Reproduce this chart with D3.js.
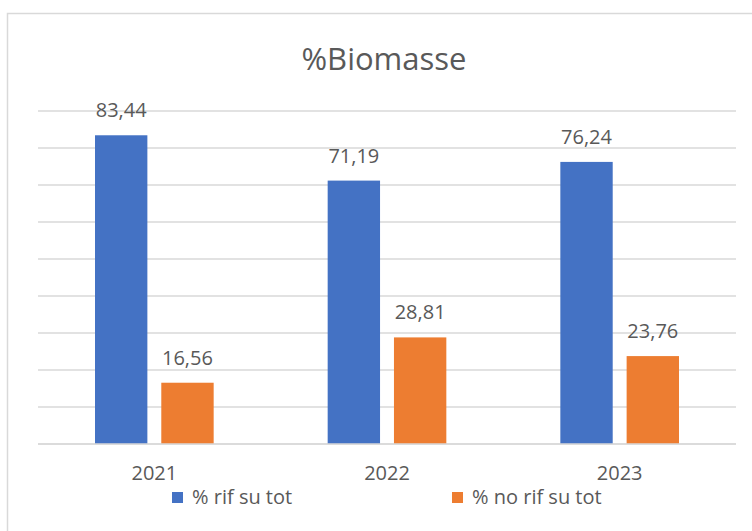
<!DOCTYPE html>
<html><head><meta charset="utf-8">
<script src="https://cdn.jsdelivr.net/npm/d3@7"></script>
<style>body{margin:0;background:#fff}svg{display:block}text{font-family:"Open Sans","Liberation Sans",sans-serif;fill:#595959}</style>
</head><body><svg id="c" width="752" height="531"></svg>
<script>
const title = "%Biomasse";
const categories = ["2021","2022","2023"];
const seriesNames = ["% rif su tot","% no rif su tot"];
const rif = [83.44, 71.19, 76.24];
const noRif = [16.56, 28.81, 23.76];
const yTicks = [0,10,20,30,40,50,60,70,80,90];
const colors = ["#4472C4","#ED7D31"];

(function(){
const svg = d3.select("#c");
svg.append("rect").attr("x",7.5).attr("y",13.5).attr("width",760).attr("height",530)
  .attr("fill","#fff").attr("stroke","#d9d9d9").attr("stroke-width",1.5);

const pl=38, pr=736, pt=111, pb=444;
const y = d3.scaleLinear().domain([0,90]).range([pb, pt]);
const x0 = d3.scaleBand().domain(categories).range([pl,pr]).paddingInner(0.49).paddingOuter(0.245);
const x1 = d3.scaleBand().domain(seriesNames).range([0,x0.bandwidth()]).paddingInner(0.21);

svg.append("g").selectAll("line").data(yTicks).join("line")
  .attr("x1",pl).attr("x2",pr).attr("y1",d=>y(d)).attr("y2",d=>y(d))
  .attr("stroke","#d9d9d9").attr("stroke-width",1.5);

const data = categories.map((c,i)=>({cat:c, vals:[{s:seriesNames[0],v:rif[i],c:colors[0]},{s:seriesNames[1],v:noRif[i],c:colors[1]}]}));
const g = svg.append("g").selectAll("g").data(data).join("g").attr("transform",d=>`translate(${x0(d.cat)},0)`);
g.selectAll("rect").data(d=>d.vals).join("rect")
  .attr("x",d=>x1(d.s)).attr("width",x1.bandwidth())
  .attr("y",d=>y(d.v)).attr("height",d=>y(0)-y(d.v)).attr("fill",d=>d.c);
g.selectAll("text").data(d=>d.vals).join("text")
  .attr("x",d=>x1(d.s)+x1.bandwidth()/2).attr("y",d=>y(d.v)-18)
  .attr("text-anchor","middle").attr("font-size",20).text(d=>d.v.toFixed(2).replace(".",","));

svg.append("line").attr("x1",pl).attr("x2",pr).attr("y1",y(0)).attr("y2",y(0)).attr("stroke","#d9d9d9").attr("stroke-width",1.5);

const xAxis = svg.append("g").attr("transform",`translate(0,${pb})`).call(d3.axisBottom(x0).tickSize(0).tickPadding(0));
xAxis.select(".domain").remove();
xAxis.selectAll("text").attr("dy",0).attr("y",36).attr("font-size",20).attr("fill","#595959")
  .style("font-family",'"Open Sans","Liberation Sans",sans-serif');

svg.append("text").attr("x",384).attr("y",70).attr("text-anchor","middle").attr("font-size",31).text(title);

const legX=[172,452];
const leg = svg.append("g").selectAll("g").data(seriesNames).join("g").attr("transform",(d,i)=>`translate(${legX[i]},492)`);
leg.append("rect").attr("width",11).attr("height",11).attr("fill",(d,i)=>colors[i]);
leg.append("text").attr("x",20).attr("y",12).attr("font-size",20).text(d=>d);
})();
</script></body></html>
